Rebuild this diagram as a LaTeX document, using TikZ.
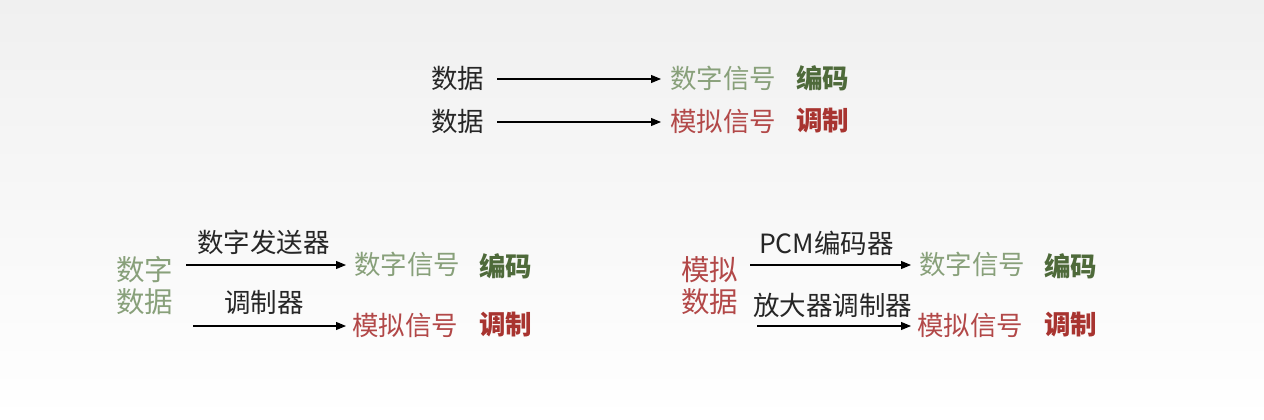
\documentclass[tikz,border=0pt]{standalone}
\usepackage{fontspec}
\setmainfont{Noto Sans CJK SC}
\usetikzlibrary{arrows.meta}
\definecolor{bgtop}{RGB}{240,240,240}
\definecolor{siggreen}{RGB}{136,160,122}
\definecolor{codgreen}{RGB}{78,106,58}
\definecolor{sigred}{RGB}{178,72,72}
\definecolor{modred}{RGB}{168,52,48}
\tikzset{
  txt/.style={anchor=west, inner sep=0pt, font=\fontsize{26.5}{32}\selectfont},
  plain/.style={txt, text=black!85},
  gsig/.style={txt, text=siggreen},
  gcod/.style={txt, text=codgreen, font=\fontsize{26.5}{32}\selectfont\bfseries},
  rsig/.style={txt, text=sigred},
  rmod/.style={txt, text=modred, font=\fontsize{26.5}{32}\selectfont\bfseries},
  two/.style={align=left, font=\fontsize{28.5}{32}\selectfont},
  arr/.style={-{Triangle[length=10pt,width=8pt]}, line width=1.1pt, black}
}
\begin{document}
\begin{tikzpicture}[x=1pt,y=-1pt]
\shade[top color=bgtop, bottom color=white] (0,0) rectangle (1264,420);
\useasboundingbox (0,0) rectangle (1264,420);
% top rows
\node[plain] (d1) at (431,78) {数据};
\node[gsig] (s1) at (670,78) {数字信号};
\node[gcod] (e1) at (796,78) {编码};
\node[plain] (d2) at (431,121) {数据};
\node[rsig] (s2) at (670,121) {模拟信号};
\node[rmod] (e2) at (796,121) {调制};
\coordinate (a1s) at (497,79); \coordinate (a1e) at (661,79);
\coordinate (a2s) at (497,122); \coordinate (a2e) at (661,122);
\draw[arr] (a1s) -- (a1e);
\draw[arr] (a2s) -- (a2e);
% bottom left
\node[gsig, two] (dd) at (116,286) {数字\\数据};
\node[plain] (l1) at (197,242) {数字发送器};
\node[plain] (l2) at (224,302) {调制器};
\node[gsig] (s3) at (354,264) {数字信号};
\node[gcod] (e3) at (479,266) {编码};
\node[rsig] (s4) at (352,325) {模拟信号};
\node[rmod] (e4) at (479,325) {调制};
\coordinate (b1s) at (186,265); \coordinate (b1e) at (346,265);
\coordinate (b2s) at (193,326); \coordinate (b2e) at (346,326);
\draw[arr] (b1s) -- (b1e);
\draw[arr] (b2s) -- (b2e);
% bottom right
\node[rsig, two] (ad) at (681,286) {模拟\\数据};
\node[plain] (l3) at (759,243) {PCM编码器};
\node[plain] (l4) at (753,305) {放大器调制器};
\node[gsig] (s5) at (919,264) {数字信号};
\node[gcod] (e5) at (1044,266) {编码};
\node[rsig] (s6) at (917,325) {模拟信号};
\node[rmod] (e6) at (1044,325) {调制};
\coordinate (c1s) at (750,265); \coordinate (c1e) at (911,265);
\coordinate (c2s) at (757,326); \coordinate (c2e) at (911,326);
\draw[arr] (c1s) -- (c1e);
\draw[arr] (c2s) -- (c2e);
\end{tikzpicture}
\end{document}
